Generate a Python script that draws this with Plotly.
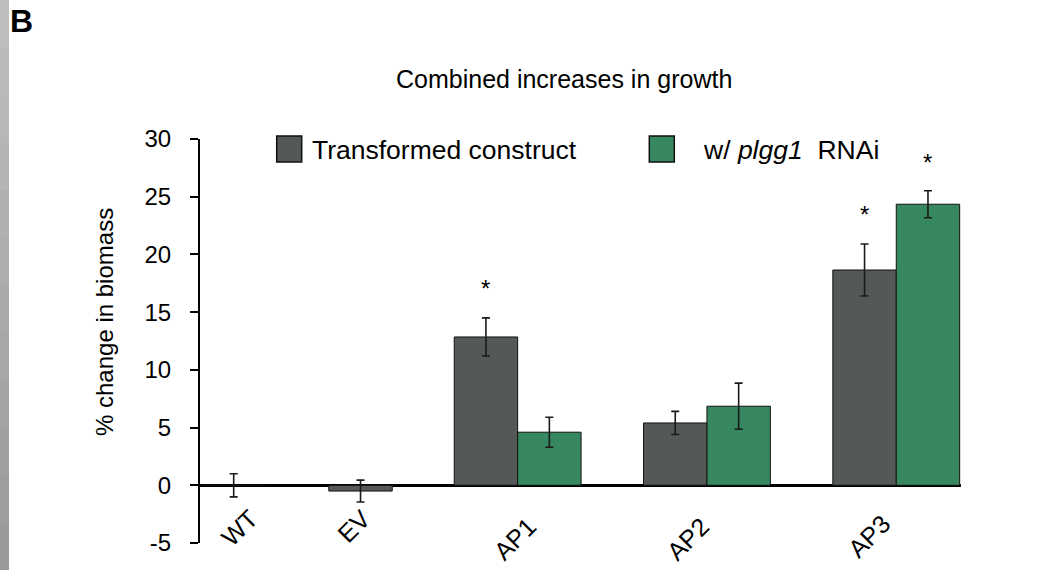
import plotly.graph_objects as go

# ---- data -------------------------------------------------------------
categories = ["WT", "EV", "AP1", "AP2", "AP3"]
construct_mean = [0.0, -0.5, 12.85, 5.4, 18.65]
construct_err = [1.0, 0.95, 1.65, 1.0, 2.25]

rnai_categories = ["AP1", "AP2", "AP3"]
rnai_mean = [4.6, 6.85, 24.35]
rnai_err = [1.3, 2.0, 1.17]

construct_sig = ["AP1", "AP3"]   # starred bars, transformed construct
rnai_sig = ["AP3"]               # starred bars, plgg1 RNAi

y_ticks = [-5, 0, 5, 10, 15, 20, 25, 30]
y_tick_text = ["-5", "0", "5", "10", "15", "20", "25", "30"]

# ---- layout constants -------------------------------------------------
W, H = 1064, 570
L, R, T, B = 200, 103, 139, 27
slot_x = {"WT": 0.5, "EV": 1.17, "AP1": 2.0, "AP2": 3.0, "AP3": 4.0}
BAR_W = 0.335
X_RANGE = [0.322, 4.342]
# per-label pixel nudges for the rotated category names
label_shift = {"WT": (32, -16), "EV": (18, -16), "AP1": (26, -24),
               "AP2": (10, -24), "AP3": (2, -21)}

GRAY = "#545958"
GREEN = "#378760"
FONT = "Liberation Sans, Arial, sans-serif"


def px_x(px):
    return (px - L) / (W - L - R)


def px_y(py):
    return (H - B - py) / (H - T - B)


has_rnai = set(rnai_categories)
gray_offset = [-BAR_W if c in has_rnai else -BAR_W / 2 for c in categories]

fig = go.Figure()
fig.add_trace(go.Bar(
    x=[slot_x[c] for c in categories], y=construct_mean,
    width=BAR_W, offset=gray_offset,
    marker=dict(color=GRAY, line=dict(color="#111111", width=1)),
    error_y=dict(type="data", array=construct_err, color="#1a1a1a",
                 thickness=1.6, width=4),
    name="Transformed construct", showlegend=False,
))
fig.add_trace(go.Bar(
    x=[slot_x[c] for c in rnai_categories], y=rnai_mean,
    width=BAR_W, offset=0,
    marker=dict(color=GREEN, line=dict(color="#111111", width=1)),
    error_y=dict(type="data", array=rnai_err, color="#1a1a1a",
                 thickness=1.6, width=4),
    name="w/ plgg1 RNAi", showlegend=False,
))

annotations = []
# significance stars
for c in construct_sig:
    i = categories.index(c)
    annotations.append(dict(
        x=slot_x[c] + gray_offset[i] + BAR_W / 2, y=construct_mean[i] + construct_err[i],
        xref="x", yref="y", text="*", showarrow=False, yanchor="bottom",
        yshift=14, font=dict(size=24, color="black", family=FONT)))
for c in rnai_sig:
    i = rnai_categories.index(c)
    annotations.append(dict(
        x=slot_x[c] + BAR_W / 2, y=rnai_mean[i] + rnai_err[i],
        xref="x", yref="y", text="*", showarrow=False, yanchor="bottom",
        yshift=13, font=dict(size=24, color="black", family=FONT)))

# rotated category names under the zero line
for c in categories:
    dx, dy = label_shift[c]
    annotations.append(dict(
        x=slot_x[c], y=0, xref="x", yref="y", text=c, textangle=-45,
        showarrow=False, xanchor="right", yanchor="top", xshift=dx, yshift=dy,
        font=dict(size=25, color="black", family=FONT)))

# title, axis title, panel letter
annotations.append(dict(x=px_x(564), y=px_y(79), xref="paper", yref="paper",
                        text="Combined increases in growth", showarrow=False,
                        xanchor="center", yanchor="middle",
                        font=dict(size=25, color="black", family=FONT)))
annotations.append(dict(x=px_x(104), y=px_y(322), xref="paper", yref="paper",
                        text="% change in biomass", textangle=-90, showarrow=False,
                        xanchor="center", yanchor="middle",
                        font=dict(size=24, color="black", family=FONT)))
annotations.append(dict(x=px_x(8), y=px_y(1), xref="paper", yref="paper",
                        text="<b>B</b>", showarrow=False,
                        xanchor="left", yanchor="top",
                        font=dict(size=32, color="black", family=FONT)))

# legend drawn by hand
legend_items = [("Transformed construct", GRAY, 276.7, 310),
                ("w/ <i>plgg1</i>&nbsp; RNAi", GREEN, 649.3, 701)]
shapes = []
for text, color, sx, tx in legend_items:
    shapes.append(dict(type="rect", xref="paper", yref="paper",
                       x0=px_x(sx), x1=px_x(sx + 25), y0=px_y(162), y1=px_y(136),
                       fillcolor=color, line=dict(color="#111111", width=1.5)))
    annotations.append(dict(x=px_x(tx), y=px_y(150), xref="paper", yref="paper",
                            text=text, showarrow=False, xanchor="left",
                            yanchor="middle",
                            font=dict(size=26.5, color="black", family=FONT)))

# grey strip along the left edge, lighter at the top
n_strip = 12
for k in range(n_strip):
    g = int(190 - 36 * k / (n_strip - 1))
    shapes.append(dict(type="rect", xref="paper", yref="paper",
                       x0=px_x(0), x1=px_x(9),
                       y0=px_y(H * (k + 1) / n_strip + 2), y1=px_y(H * k / n_strip),
                       fillcolor=f"rgb({g},{g},{g})", line=dict(width=0)))

fig.update_layout(
    width=W, height=H,
    margin=dict(l=L, r=R, t=T, b=B, pad=0),
    paper_bgcolor="white", plot_bgcolor="white",
    barmode="overlay",
    showlegend=False,
    annotations=annotations,
    shapes=shapes,
    font=dict(family=FONT, color="black"),
    xaxis=dict(range=X_RANGE, showgrid=False, zeroline=False, showline=False,
               showticklabels=False, ticks="", fixedrange=True),
    yaxis=dict(range=[-5, 30], tickvals=y_ticks, ticktext=y_tick_text,
               showgrid=False,
               zeroline=True, zerolinecolor="black", zerolinewidth=2.5,
               showline=True, linecolor="black", linewidth=2,
               ticks="outside", ticklen=8, tickwidth=2, tickcolor="black",
               ticklabelstandoff=14,
               tickfont=dict(size=24, color="black", family=FONT)),
)

fig.write_html("out.html")
